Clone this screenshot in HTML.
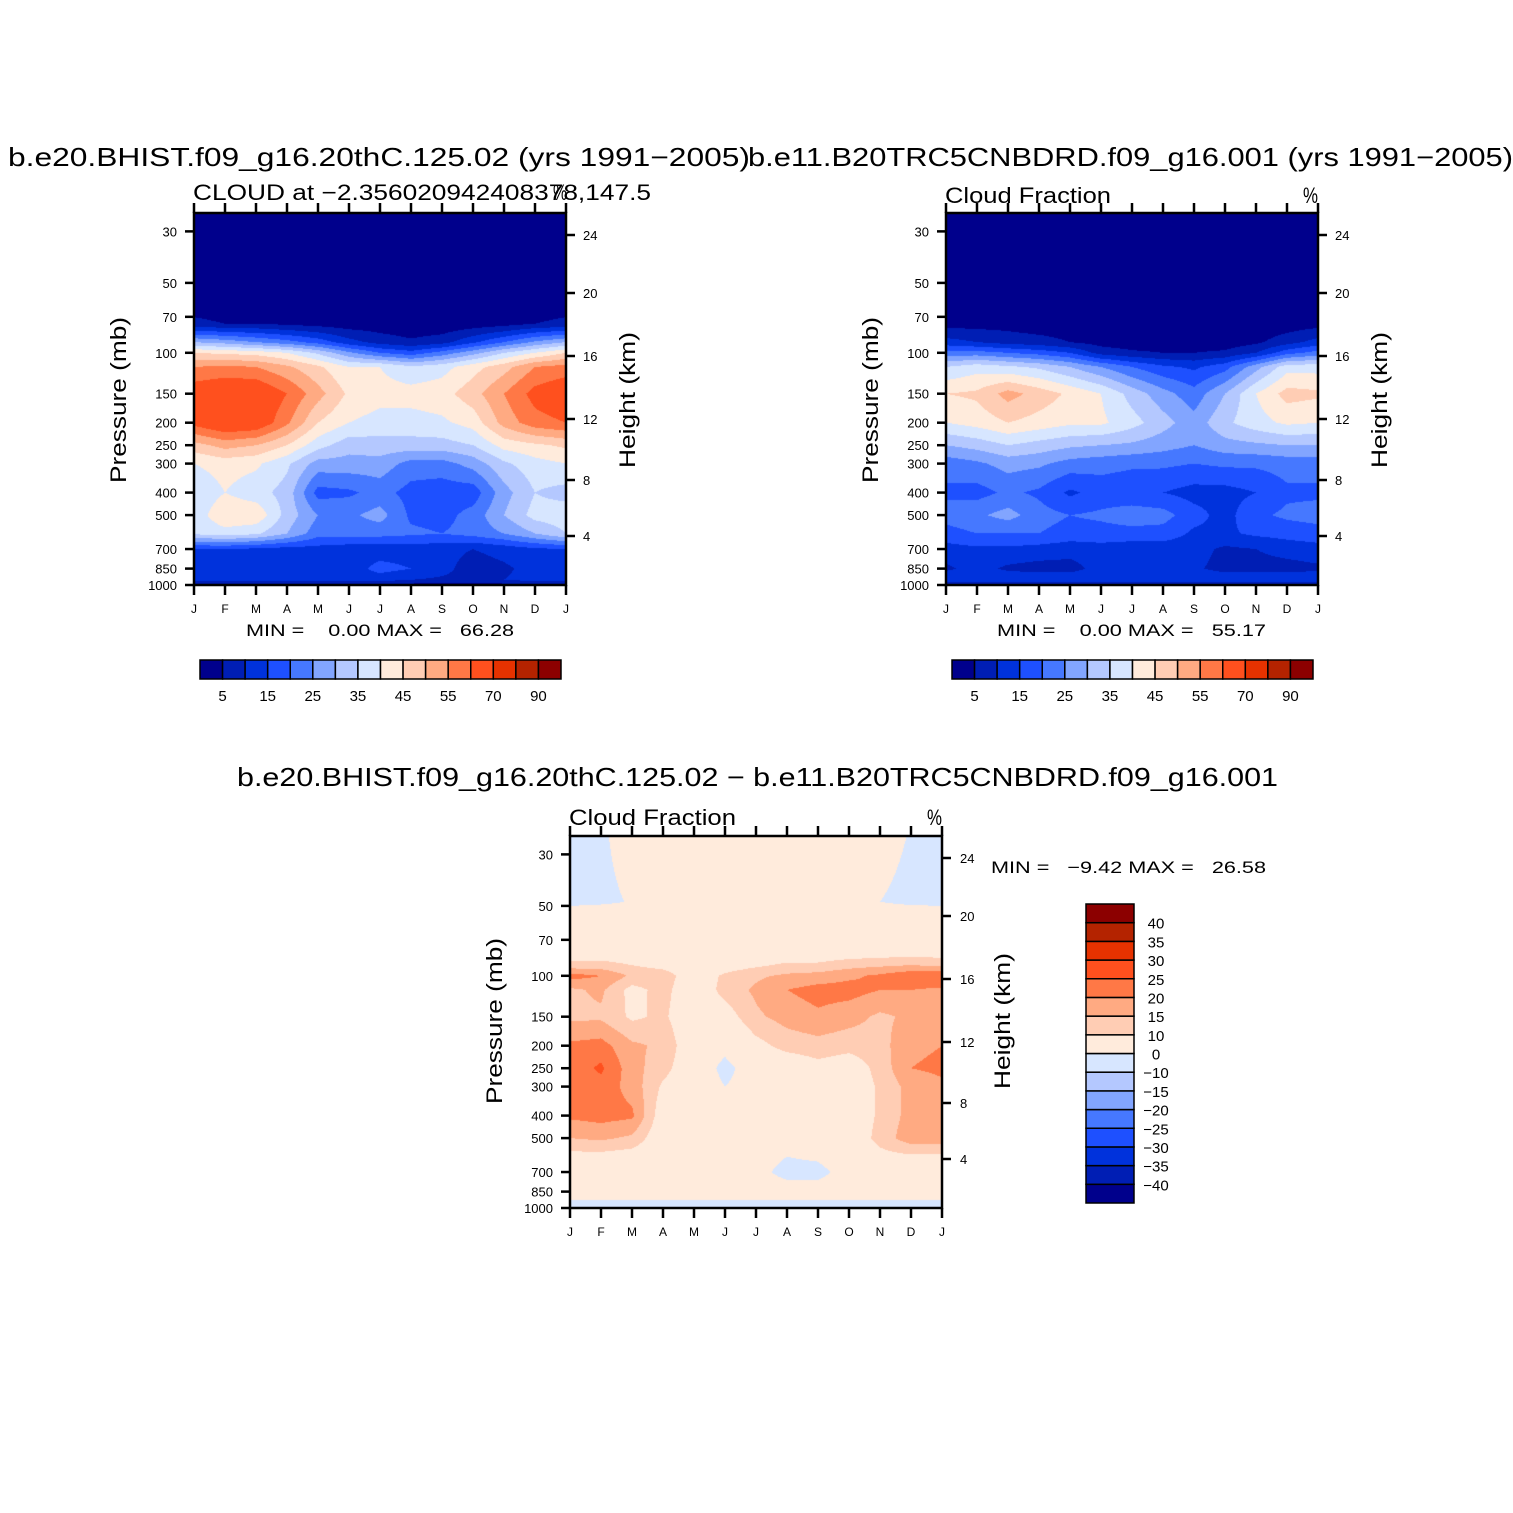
<!DOCTYPE html>
<html><head><meta charset="utf-8">
<style>
html,body{margin:0;padding:0;background:#fff;}
body{width:1513px;height:1513px;position:relative;overflow:hidden;font-family:"Liberation Sans",sans-serif;}
canvas{position:absolute;}
#overlay{position:absolute;left:0;top:0;}
text{font-family:"Liberation Sans",sans-serif;fill:#000;}
</style></head>
<body>
<canvas id="c1" width="372" height="372" style="left:194px;top:213px"></canvas>
<canvas id="c2" width="372" height="372" style="left:946px;top:213px"></canvas>
<canvas id="c3" width="372" height="371" style="left:570px;top:836px"></canvas>
<svg id="overlay" width="1513" height="1513" xmlns="http://www.w3.org/2000/svg"></svg>
<script>
const months = ['J','F','M','A','M','J','J','A','S','O','N','D','J'];
const pressureLevels = [25,48,52,75,90,100,115,150,200,250,300,400,500,600,700,850,950,1000];
const pressureTicks = [30,50,70,100,150,200,250,300,400,500,700,850,1000];
const heightTicks = [24,20,16,12,8,4];
const cloudLevels = [5,10,15,20,25,30,35,40,45,50,55,60,70,80,90];
const cloudLabels = [5,15,25,35,45,55,70,90];
const diffLevels = [-40,-35,-30,-25,-20,-15,-10,0,10,15,20,25,30,35,40];
const palette = ['#00008C','#001EB4','#0032DC','#1E50FF','#4678FF','#82A5FF','#B4C8FF','#D7E6FF','#FFEBDC','#FFCDB4','#FFAA82','#FF7846','#FF501E','#E63200','#B42300','#8C0000'];
// model 1 cloud (%) : one row per month column, values at pressureLevels
const model1 = [
[0,0,0.5,6,30,45,55,64,62,48,40,36,37,36,15,12,12,3],
[0,0,0.5,5,28,44,56,66,66,52,42,40,44,38,15,12,12,3],
[0,0,0.5,5,25,43,55,66,65,50,41,37,44,36,14,12,12,3],
[0,0,0.5,4,22,40,51,60,56,45,36,33,33,30,13,12,12,3],
[0,0,0.5,3,18,34,46,52,45,37,28,18,25,22,13,12,12,3],
[0,0,0,2,12,26,40,44,40,32,28,19,24,22,12,12,12,3],
[0,0,0,2,8,20,40,42,38,33,28,22,27,22,12,17,12,3],
[0,0,0,1,6,17,36,42,38,33,23,18,19,21,12,15,10,3],
[0,0,0,1,8,22,38,43,39,33,23,17,18,20,12,12,9,3],
[0,0,0,2,14,28,43,48,42,35,27,17,22,22,10,7,8,3],
[0,0,0.5,3,20,35,48,55,52,42,34,28,30,25,12,9,10,3],
[0,0,0.5,5,26,40,55,62,58,44,38,35,37,30,14,12,12,3],
[0,0,0.5,6,30,45,57,65,60,46,40,33,38,35,15,12,12,3]];
const model2 = [
[0,0,0,3,12,22,35,45,40,30,22,19,22,18,13,9,14,5],
[0,0,0,3,10,22,38,46,42,32,24,18,24,20,14,12,14,5],
[0,0,0,3,8,20,36,52,45,35,27,21,27,20,14,9,14,5],
[0,0,0,2,7,18,34,48,43,33,26,19,22,20,13,8,14,5],
[0,0,0,2,5,15,30,44,41,31,23,14,20,18,12,8,14,5],
[0,0,0,1,3,8,25,40,41,30,22,17,21,18,13,12,14,5],
[0,0,0,1,2,6,20,33,37,29,21,16,23,18,12,13,14,5],
[0,0,0,1,2,5,16,27,32,27,21,15,22,18,12,11,14,5],
[0,0,0,1,2,5,14,22,27,25,20,13,17,14,12,11,14,5],
[0,0,0,1,2,6,18,30,34,28,21,13,13,14,9,8,14,5],
[0,0,0,1,4,10,28,40,38,29,21,15,19,16,10,8,14,5],
[0,0,0,2,8,18,38,47,41,30,22,19,21,17,12,8,14,5],
[0,0,0,3,12,22,38,46,40,30,22,19,22,18,13,9,14,5]];
const diffValues = [
[-4,-3,3,4,12,22,14,14,21,22,21,21,15,8,4,3,-1,-2],
[-1,-1.5,3,4,12,20,16,14,22,26,23,22,16,8,4,3,-1,-2],
[3,0.5,3,4,10,14,8,9,16,17,18,21,14,7,4,3,-1,-2],
[4,3,3,4,8,13,12,11,14,12,9,6,5,4,4,3,-1,-2],
[4,3,3,4,5,6,5,5,5,5,5,5,5,4,4,3,-1,-2],
[4,3,3,4,7,11,12,7,2,-2,0,4,4,4,4,3,-1,-2],
[4,3,3,4,9,14,16,14,8,4,3,4,4,3,2,3,-1,-2],
[4,3,3,4,11,16,20,17,12,5,4,4,3,0,-2,3,-1,-2],
[4,3,3,4,11,17,22,19,13,8,5,4,3,1,-2,3,-1,-2],
[4,3,3,4,13,19,22,17,12,6,5,5,5,5,3,3,-1,-2],
[3,0,3,4,14,21,20,14,13,12,11,11,12,8,4,3,-1,-2],
[-0.5,-2,3,4,15,24,20,16,19,20,17,17,18,9,4,3,-1,-2],
[-4,-3,3,4,14,25,19,15,20,21,19,17,18,9,4,3,-1,-2]];

const LP = pressureLevels.map(p=>Math.log10(p));
function hexRgb(h){return [parseInt(h.substr(1,2),16),parseInt(h.substr(3,2),16),parseInt(h.substr(5,2),16)];}
const RGB = palette.map(hexRgb);
function colorIndex(v,levels){let k=0;while(k<levels.length&&v>=levels[k])k++;return k;}
function sample(data,m,lp){
  let i=Math.min(Math.floor(m),11), fx=m-i;
  let j=0; while(j<LP.length-2 && lp>LP[j+1]) j++;
  let fy=(lp-LP[j])/(LP[j+1]-LP[j]); fy=Math.max(0,Math.min(1,fy));
  const a=data[i][j]*(1-fx)+data[i+1][j]*fx;
  const b=data[i][j+1]*(1-fx)+data[i+1][j+1]*fx;
  return a*(1-fy)+b*fy;
}
const H=372, K=H/Math.log10(1000/25);
function yOfP(p){return H-Math.log10(1000/p)*K;}
function fillCanvas(id,data,levels){
  const cv=document.getElementById(id),ctx=cv.getContext('2d');
  const w=cv.width,h=cv.height,img=ctx.createImageData(w,h);
  for(let py=0;py<h;py++){
    const lp=Math.log10(1000)-(H-py-0.5)/K;
    for(let px=0;px<w;px++){
      const m=(px+0.5)/w*12;
      const c=RGB[colorIndex(sample(data,m,lp),levels)];
      const o=(py*w+px)*4;img.data[o]=c[0];img.data[o+1]=c[1];img.data[o+2]=c[2];img.data[o+3]=255;
    }
  }
  ctx.putImageData(img,0,0);
}
fillCanvas('c1',model1,cloudLevels);
fillCanvas('c2',model2,cloudLevels);
fillCanvas('c3',diffValues,diffLevels);

const svg=document.getElementById('overlay');
const NS='http://www.w3.org/2000/svg';
function mk(tag,attrs,txt){const e=document.createElementNS(NS,tag);for(const k in attrs)e.setAttribute(k,attrs[k]);if(txt!==undefined)e.textContent=txt;svg.appendChild(e);return e;}
function txt(x,y,s,size,len,anchor,rot){
  const a={x:x,y:y,'font-size':size,'text-anchor':anchor||'start'};
  if(len){a.textLength=len;a.lengthAdjust='spacingAndGlyphs';}
  if(rot)a.transform='rotate(-90 '+x+' '+y+')';
  const e=mk('text',a,s);e.setAttribute('xml:space','preserve');e.style.whiteSpace='pre';return e;
}
const heightOffsets=[22,80,143,206,267,323];
function axes(ox,oy,name,lx,ptx,hlx,htx,tcy){
  const w=372;
  for(let i=0;i<months.length;i++){
    const x=ox+i*w/12;
    let t=mk('line',{x1:x,y1:oy-10,x2:x,y2:oy,stroke:'#000','stroke-width':2.5});
    
    
    t=mk('line',{x1:x,y1:oy+H,x2:x,y2:oy+H+10,stroke:'#000','stroke-width':2.5});
    
    
    t=txt(x,oy+H+28,months[i],12,null,'middle');
    
    
  }
  for(const p of pressureTicks){
    const y=oy+yOfP(p);
    let t=mk('line',{x1:ox-9,y1:y,x2:ox,y2:y,stroke:'#000','stroke-width':2.5});
    
    
    t=txt(lx,y+5,String(p),13,null,'end');
    
    
  }
  for(let k=0;k<heightTicks.length;k++){
    const y=oy+heightOffsets[k];
    let t=mk('line',{x1:ox+w,y1:y,x2:ox+w+9,y2:y,stroke:'#000','stroke-width':2.5});
    
    
    t=txt(hlx,y+5,String(heightTicks[k]),13,null,'start');
    
    
  }
  let f=mk('rect',{x:ox,y:oy,width:w,height:H,fill:'none',stroke:'#000','stroke-width':2.5});
  
  
  f=txt(ptx,tcy,'Pressure (mb)',22,166,'middle',true);
  
  
  f=txt(htx,tcy,'Height (km)',22,136,'middle',true);
  
  
}
axes(194,213,'model1','177',126,583,635,400);
axes(946,213,'model2','929',878,1335,1387,400);
axes(570,836,'diff','553',502,960,1010,1021);

function hbar(x0,y0,name){
  const bw=361/16;
  for(let k=0;k<16;k++){
    let r=mk('rect',{x:x0+k*bw,y:y0,width:bw,height:19,fill:palette[k],stroke:'#000','stroke-width':1.5});
    
    
  }
  for(const v of cloudLabels){
    const k=cloudLevels.indexOf(v)+1;
    let t=txt(x0+k*bw,y0+41,String(v),15,null,'middle');
    
    
  }
}
hbar(200,660,'model1');
hbar(952,660,'model2');
(function(){
  const bh=(1203-904)/16;
  for(let k=0;k<16;k++){
    let r=mk('rect',{x:1086,y:1203-(k+1)*bh,width:48,height:bh,fill:palette[k],stroke:'#000','stroke-width':1.5});
    
    
  }
  for(let k=0;k<diffLevels.length;k++){
    const s=String(diffLevels[k]).replace('-','\u2212');
    let t=txt(1156,1203-(k+1)*bh+6,s,15,null,'middle');
    
    
  }
})();

let e;
e=txt(8,166,'b.e20.BHIST.f09_g16.20thC.125.02 (yrs 1991\u22122005)',26,742);


e=txt(748,166,'b.e11.B20TRC5CNBDRD.f09_g16.001 (yrs 1991\u22122005)',26,765);


e=txt(193,200,'CLOUD at \u22122.356020942408378,147.5',22,458);


e=txt(553,200,'%',22,14);


e=txt(945,203,'Cloud Fraction',22,166);


e=txt(1303,203,'%',22,15);


e=txt(237,786,'b.e20.BHIST.f09_g16.20thC.125.02 \u2212 b.e11.B20TRC5CNBDRD.f09_g16.001',26,1041);


e=txt(569,825,'Cloud Fraction',22,167);


e=txt(927,825,'%',22,15);


e=txt(246,636,'MIN =    0.00 MAX =   66.28',17,268);


e=txt(997,636,'MIN =    0.00 MAX =   55.17',17,269);


e=txt(991,873,'MIN =   \u22129.42 MAX =   26.58',17,275);


</script>
</body></html>
